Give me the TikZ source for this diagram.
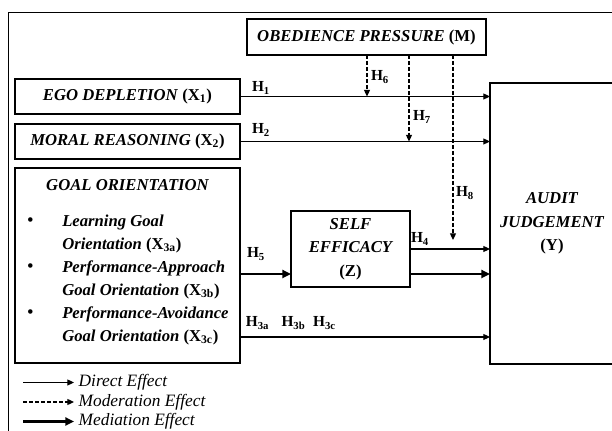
\documentclass[tikz,border=0pt]{standalone}
\usepackage{fontspec}
\setmainfont{Liberation Serif}
\usetikzlibrary{arrows.meta}

\begin{document}
\begin{tikzpicture}
[x=0.75pt,y=-0.75pt,
box/.style={draw,line width=1pt,inner sep=0pt,outer sep=0pt,align=center,font=\fontsize{12.5}{17.5}\selectfont\bfseries\itshape},
hh/.style={font=\fontsize{11.5}{13}\selectfont\bfseries,inner sep=1pt},
direct/.style={-{Triangle[length=5pt,width=4.5pt]},line width=0.8pt},
moder/.style={-{Triangle[length=5pt,width=4.5pt]},line width=0.9pt,dash pattern=on 3pt off 1.5pt},
medi/.style={-{Triangle[length=6.5pt,width=6pt]},line width=1.7pt},
lst/.style={anchor=west,inner sep=0pt,font=\fontsize{12.5}{15}\selectfont\bfseries\itshape},
leg/.style={anchor=west,font=\fontsize{13}{15}\selectfont\itshape}]
\useasboundingbox (0,0) rectangle (612,431);
\clip (0,0) rectangle (612,431);
%%%%% FRAME
\draw[line width=0.7pt] (620,12) -- (8,12) -- (8,440);
%%%%% BOXES
\node[box,minimum width=179.25pt,minimum height=27pt] (obed) at (366.5,37) {OBEDIENCE PRESSURE \textup{(M)}};
\node[box,minimum width=168.75pt,minimum height=26.25pt] (ego) at (127.5,96.5) {EGO DEPLETION \textup{(X\textsubscript{1})}};
\node[box,minimum width=168.75pt,minimum height=26.25pt] (moral) at (127.5,141.5) {MORAL REASONING \textup{(X\textsubscript{2})}};
\node[box,minimum width=168.75pt,minimum height=146.25pt] (goal) at (127.5,265.5) {};
\node[box,draw=none] (goaltitle) at (127.5,185) {GOAL ORIENTATION};
\foreach \t [count=\k] in {{Learning Goal},{Orientation \textup{(X\textsubscript{3a})}},{Performance-Approach},{Goal Orientation \textup{(X\textsubscript{3b})}},{Performance-Avoidance},{Goal Orientation \textup{(X\textsubscript{3c})}}}
	\node[lst] (gl\k) at (62,{199+23*\k}) {\t};
\foreach \k in {1,3,5}
	\node[lst] (gb\k) at (27,{199+23*\k}) {\textbullet};
\node[box,minimum width=89.25pt,minimum height=57pt] (selfeff) at (350.5,249) {SELF\\EFFICACY\\\textup{(Z)}};
\node[box,minimum width=93pt,minimum height=210.75pt] (audit) at (552,223.5) {AUDIT\\JUDGEMENT\\\textup{(Y)}};
%%%%% DIRECT
\draw[direct] (ego.east) -- (ego.east -| audit.west);
\draw[direct] (moral.east) -- (moral.east -| audit.west);
\coordinate (x3) at (240,337);
\draw[direct] (x3) -- (x3 -| audit.west);
\draw[direct] (selfeff.east) -- (selfeff.east -| audit.west);
%%%%% MEDIATION
\coordinate (x5) at (240,274);
\draw[medi] (x5) -- (x5 -| selfeff.west);
\draw[medi] (x5 -| selfeff.east) -- (x5 -| audit.west);
%%%%% MODERATION
\coordinate (m6) at (367,96.5);
\coordinate (m7) at (409,141.5);
\coordinate (m8) at (453,240);
\foreach \m in {m6,m7,m8}
	\draw[moder] (\m |- obed.south) -- (\m);
%%%%% HYPOTHESES
\node[hh] (lh1) at (261,88) {H\textsubscript{1}};
\node[hh] (lh2) at (261,130) {H\textsubscript{2}};
\node[hh] (lh3a) at (257.5,323) {H\textsubscript{3a}};
\node[hh] (lh3b) at (293.5,323) {H\textsubscript{3b}};
\node[hh] (lh3c) at (324.5,323) {H\textsubscript{3c}};
\node[hh] (lh4) at (420,239) {H\textsubscript{4}};
\node[hh] (lh5) at (256,254) {H\textsubscript{5}};
\node[hh] (lh6) at (380,77) {H\textsubscript{6}};
\node[hh] (lh7) at (422,117) {H\textsubscript{7}};
\node[hh] (lh8) at (465,193) {H\textsubscript{8}};
%%%%% LEGEND
\foreach \s/\t [count=\k] in {direct/Direct Effect,moder/Moderation Effect,medi/Mediation Effect}
{
	\node[leg] (leg\k) at (74,{363+19.5*\k}) {\t};
	\coordinate (legs\k) at (23,{363+19.5*\k});
	\draw[\s] (legs\k) -- (leg\k.west);
};
\end{tikzpicture}
\end{document}
